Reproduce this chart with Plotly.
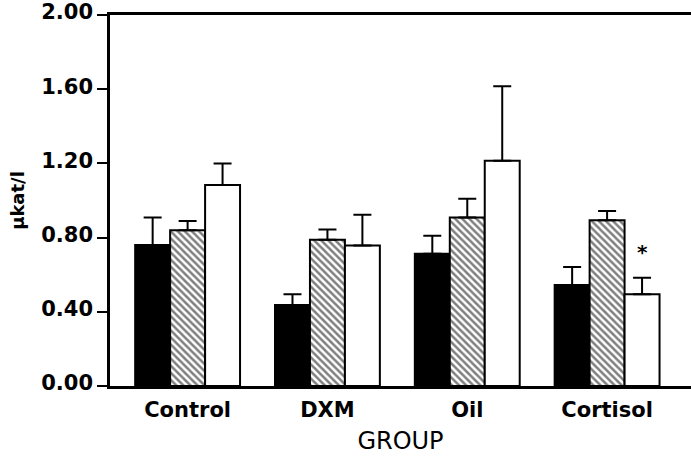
import plotly.graph_objects as go

groups = ["Control", "DXM", "Oil", "Cortisol"]
black_vals = [0.76, 0.437, 0.713, 0.544]
black_err = [0.148, 0.057, 0.097, 0.098]
hatch_vals = [0.84, 0.788, 0.908, 0.894]
hatch_err = [0.05, 0.055, 0.102, 0.05]
white_vals = [1.083, 0.757, 1.214, 0.494]
white_err = [0.117, 0.166, 0.402, 0.089]
yticks = [0.0, 0.4, 0.8, 1.2, 1.6, 2.0]

xpos = list(range(len(groups)))
FONT = "DejaVu Sans"

def err(vals):
    return dict(type="data", array=vals, symmetric=False, arrayminus=[0]*len(vals),
                color="black", thickness=2, width=9)

fig = go.Figure()
fig.add_bar(x=xpos, y=black_vals, marker=dict(color="black", line=dict(color="black", width=2)),
            error_y=err(black_err), name="a")
fig.add_bar(x=xpos, y=hatch_vals,
            marker=dict(color="white", line=dict(color="black", width=2),
                        pattern=dict(shape="\\", fgcolor="black", bgcolor="white", size=5, solidity=0.5)),
            error_y=err(hatch_err), name="b")
fig.add_bar(x=xpos, y=white_vals, marker=dict(color="white", line=dict(color="black", width=2)),
            error_y=err(white_err), name="c")

fig.add_annotation(x=3.25, y=0.72, text="<b>*</b>", showarrow=False,
                   font=dict(size=20, color="black", family=FONT))

fig.update_layout(
    width=691, height=458,
    margin=dict(l=110, r=0, t=12, b=72),
    paper_bgcolor="white", plot_bgcolor="white",
    barmode="group", bargap=0.25, bargroupgap=0,
    showlegend=False,
    font=dict(family=FONT, color="black"),
    xaxis=dict(range=[-0.555, 3.6], tickvals=xpos, ticktext=["<b>%s</b>" % g for g in groups],
               tickfont=dict(size=21), showline=True, linecolor="black", linewidth=2.5, mirror=True,
               ticks="", ticklabelstandoff=3, showgrid=False, zeroline=False,
               title=dict(text="GROUP", font=dict(size=24, weight=500), standoff=12)),
    yaxis=dict(range=[0, 2.0], tickvals=yticks, ticktext=["<b>%.2f</b>" % v for v in yticks],
               tickfont=dict(size=21), showline=True, linecolor="black", linewidth=2.5,
               ticks="outside", ticklen=10, tickwidth=2, tickcolor="black",
               ticklabeloverflow="allow", ticklabelshift=-3,
               showgrid=False, zeroline=False,
               title=dict(text="<b>µkat/l</b>", font=dict(size=18), standoff=12)),
)

fig.write_html("out.html", config={"displayModeBar": False},
               post_script="document.body.style.margin='0px';")
